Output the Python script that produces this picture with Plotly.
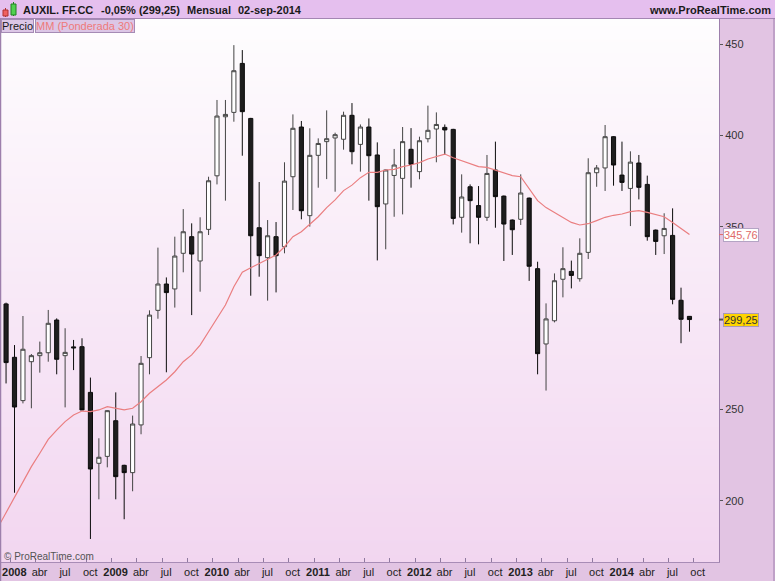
import plotly.graph_objects as go

# ---- data (monthly, dic-2007 .. sep-2014) ----
opens = [307.8, 278.6, 254.9, 276.2, 279.5, 281.1, 299.0, 279.5, 284.3, 284.4,
         259.4, 220.6, 224.4, 243.9, 219.5, 215.5, 241.6, 278.4, 304.3, 318.7,
         316.0, 335.5, 344.6, 331.3, 348.6, 377.9, 410.2, 412.6, 439.4, 409.3,
         349.5, 333.1, 344.6, 339.1, 377.4, 404.6, 356.1, 389.1, 396.6, 398.6,
         397.9, 411.0, 395.1, 404.6, 389.3, 362.5, 378.1, 376.5, 392.4, 380.2,
         398.2, 403.5, 404.4, 403.3, 355.2, 371.9, 361.6, 355.2, 381.1, 366.8,
         353.7, 354.1, 365.7, 327.1, 285.9, 298.6, 321.3, 325.6, 321.6, 336.0,
         379.6, 382.2, 399.3, 378.3, 371.0, 384.9, 373.2, 348.2, 345.1, 345.3,
         309.8, 301.0]
highs = [308.5, 285.3, 301.2, 280.4, 287.2, 304.5, 299.9, 294.5, 288.1, 289.0,
         267.5, 234.3, 249.6, 259.4, 219.8, 246.7, 279.3, 304.3, 338.6, 322.3,
         344.6, 359.7, 351.9, 355.2, 377.4, 419.4, 419.4, 449.4, 446.7, 409.6,
         374.5, 353.7, 352.6, 385.3, 411.5, 407.9, 403.9, 398.4, 413.7, 401.5,
         413.0, 417.7, 406.0, 409.3, 396.2, 381.3, 392.6, 404.6, 404.0, 399.3,
         416.3, 412.6, 406.0, 403.6, 378.7, 373.2, 372.3, 389.3, 396.6, 367.1,
         354.0, 378.7, 366.0, 330.9, 308.1, 324.5, 338.8, 331.5, 343.7, 387.5,
         383.8, 405.7, 399.6, 396.6, 391.3, 389.3, 378.0, 348.5, 357.4, 360.1,
         316.7, 301.2]
lows = [264.3, 204.5, 253.4, 250.7, 270.2, 276.2, 269.3, 251.2, 271.6, 249.6,
        179.2, 200.9, 218.4, 200.9, 190.0, 205.3, 236.5, 269.3, 299.7, 270.4,
        305.8, 325.1, 301.7, 314.5, 345.5, 373.2, 364.3, 407.5, 388.9, 312.3,
        322.7, 309.6, 314.1, 335.5, 359.2, 354.1, 350.1, 371.4, 376.1, 369.2,
        392.2, 384.2, 380.2, 364.3, 331.6, 337.7, 355.5, 356.8, 371.4, 376.0,
        396.2, 385.3, 389.3, 351.3, 346.8, 341.0, 340.4, 353.2, 349.5, 331.3,
        334.6, 351.0, 320.4, 269.3, 260.4, 297.7, 311.4, 316.3, 320.0, 332.4,
        371.9, 369.6, 372.5, 369.6, 350.4, 365.0, 342.4, 334.6, 335.1, 307.6,
        286.3, 292.6]
closes = [275.7, 251.4, 283.0, 279.5, 281.1, 297.2, 277.5, 281.3, 283.8, 249.8,
          217.5, 223.9, 249.4, 213.3, 215.5, 242.1, 275.3, 301.7, 318.7, 314.0,
          334.0, 347.3, 335.1, 347.3, 375.2, 410.6, 411.5, 435.4, 413.0, 345.1,
          334.2, 345.1, 334.2, 375.0, 403.9, 358.8, 389.1, 395.6, 398.2, 400.4,
          411.0, 391.1, 404.6, 388.9, 361.0, 381.1, 383.8, 396.6, 384.2, 397.1,
          402.8, 406.0, 403.0, 354.6, 366.3, 364.3, 355.2, 379.2, 366.5, 351.5,
          348.4, 368.5, 328.4, 280.6, 299.6, 320.5, 327.1, 323.4, 335.5, 379.6,
          382.2, 399.3, 383.8, 374.3, 385.4, 371.6, 344.6, 342.0, 349.1, 310.3,
          299.4, 299.25]
# weighted moving average 30 (first value = nov-2007, just left of the view)
mm30 = [185.2, 193.8, 202.4, 210.6, 218.8, 226.1, 233.7, 238.8, 243.4, 247.0, 249.2,
        248.9, 249.8, 251.6, 250.7, 249.8, 250.7, 254.3, 258.9, 262.5, 266.2,
        270.7, 276.2, 279.9, 285.3, 292.6, 299.9, 307.2, 317.2, 325.1, 327.6,
        330.0, 332.4, 334.6, 339.1, 344.6, 347.3, 351.3, 355.5, 360.5, 364.7,
        369.8, 372.8, 376.9, 379.8, 379.8, 381.1, 381.4, 382.9, 383.8, 385.1,
        387.1, 388.5, 389.8, 387.8, 386.1, 384.7, 382.9, 382.5, 381.1, 379.8,
        378.0, 377.4, 371.0, 364.3, 360.5, 357.7, 355.0, 352.4, 351.0, 351.7,
        353.4, 355.2, 356.3, 357.0, 358.3, 358.8, 357.9, 356.5, 355.5, 352.4,
        349.2, 345.76]
tick_labels = ["2008", "abr", "jul", "oct", "2009", "abr", "jul", "oct",
               "2010", "abr", "jul", "oct", "2011", "abr", "jul", "oct",
               "2012", "abr", "jul", "oct", "2013", "abr", "jul", "oct",
               "2014", "abr", "jul", "oct"]
y_ticks = [200, 250, 350, 400, 450]   # 300 is hidden behind the last-price box
last_close = 299.25
last_mm = 345.76

xs = list(range(len(opens)))
ma_x = list(range(-1, len(opens)))
tick_pos = [1 + 3 * k for k in range(len(tick_labels))]
tick_text = [("<b>%s</b>" % t if t.isdigit() else t) for t in tick_labels]

FONT = "Liberation Sans, Arial, sans-serif"
W, H = 775, 581
L, R, T, B = 1, 56, 19, 19
PW, PH = W - L - R, H - T - B
XR = [-0.6, 84.5]
YR = [166.6, 463.7]

def px(x):
    return (x - L) / PW

def py(y):
    return (H - B - y) / PH

fig = go.Figure()

# background gradient of the price panel
fig.add_trace(go.Heatmap(
    x=XR, y=YR, z=[[0, 0], [1, 1]], zsmooth="best",
    colorscale=[[0, "#f2d6f0"], [0.5, "#f8e9f7"], [1, "#fefdfe"]],
    showscale=False, hoverinfo="skip"))

fig.add_trace(go.Candlestick(
    x=xs, open=opens, high=highs, low=lows, close=closes,
    increasing=dict(fillcolor="#ffffff", line=dict(color="#444444", width=1)),
    decreasing=dict(fillcolor="#1e1e1e", line=dict(color="#0c0c0c", width=1)),
    whiskerwidth=0, showlegend=False, name="Precio"))

fig.add_trace(go.Scatter(
    x=ma_x, y=mm30, mode="lines", line=dict(color="#ea7e80", width=1.2),
    showlegend=False, name="MM (Ponderada 30)", hoverinfo="skip"))

shapes = []
# header bar
shapes.append(dict(type="rect", xref="paper", yref="paper", x0=px(-2), x1=px(W + 2),
                   y0=py(18), y1=py(-2), fillcolor="#e5bfee", line=dict(width=0), layer="below"))
shapes.append(dict(type="line", xref="paper", yref="paper", x0=px(0), x1=px(W),
                   y0=py(18.5), y1=py(18.5), line=dict(color="#a486b3", width=1)))
# panel borders
shapes.append(dict(type="line", xref="paper", yref="paper", x0=px(0.5), x1=px(0.5),
                   y0=py(H), y1=py(18.5), line=dict(color="#9d7fac", width=1.5)))
shapes.append(dict(type="line", xref="paper", yref="paper", x0=px(774), x1=px(774),
                   y0=py(H), y1=py(18.5), line=dict(color="#9d7fac", width=1)))
# header icon
shapes.append(dict(type="line", xref="paper", yref="paper", x0=px(5.5), x1=px(5.5),
                   y0=py(17), y1=py(8), line=dict(color="#b03030", width=1)))
shapes.append(dict(type="rect", xref="paper", yref="paper", x0=px(3), x1=px(8),
                   y0=py(16), y1=py(10), fillcolor="#f06060", line=dict(color="#b03030", width=1)))
shapes.append(dict(type="line", xref="paper", yref="paper", x0=px(13.5), x1=px(13.5),
                   y0=py(16), y1=py(2), line=dict(color="#208020", width=1)))
shapes.append(dict(type="rect", xref="paper", yref="paper", x0=px(11), x1=px(16),
                   y0=py(15), y1=py(4), fillcolor="#50d050", line=dict(color="#208020", width=1)))
# axis markers for the last values
shapes.append(dict(type="line", xref="paper", yref="y", x0=1, x1=px(723),
                   y0=last_mm, y1=last_mm, line=dict(color="#e06a6a", width=1)))
shapes.append(dict(type="line", xref="paper", yref="y", x0=1, x1=px(723),
                   y0=last_close, y1=last_close, line=dict(color="#555555", width=2)))

ann = []
def head(text, x, anchor="left"):
    ann.append(dict(text=text, xref="paper", yref="paper", x=px(x), y=py(9.5),
                    xanchor=anchor, yanchor="middle", showarrow=False,
                    font=dict(family=FONT, size=11, color="#1a1a1a")))

head("<b>AUXIL. FF.CC</b>", 21)
head("<b>-0,05% (299,25)</b>", 99)
head("<b>Mensual</b>", 185)
head("<b>02-sep-2014</b>", 236)
head("<b>www.ProRealTime.com</b>", 773, "right")

ann.append(dict(text="Precio", xref="paper", yref="paper", x=px(1), y=py(19),
                xanchor="left", yanchor="top", showarrow=False,
                bgcolor="#dcc6e6", bordercolor="#a58bb5", borderwidth=1, borderpad=0,
                font=dict(family=FONT, size=11, color="#1a1a1a")))
ann.append(dict(text="MM (Ponderada 30)", xref="paper", yref="paper", x=px(35), y=py(19),
                xanchor="left", yanchor="top", showarrow=False,
                bgcolor="#dcc6e6", bordercolor="#a58bb5", borderwidth=1, borderpad=0,
                font=dict(family=FONT, size=11, color="#ee7a7a")))
ann.append(dict(text="\u00a9 ProRealTime.com", xref="paper", yref="paper", x=px(2), y=py(556),
                xanchor="left", yanchor="middle", showarrow=False,
                font=dict(family=FONT, size=10, color="#555555")))
ann.append(dict(text="345,76", xref="paper", yref="y", x=px(723), y=last_mm,
                xanchor="left", yanchor="middle", showarrow=False,
                bgcolor="#ffffff", bordercolor="#b4a4c4", borderwidth=1, borderpad=0,
                font=dict(family=FONT, size=11, color="#e06a6a")))
ann.append(dict(text="299,25", xref="paper", yref="y", x=px(723), y=last_close,
                xanchor="left", yanchor="middle", showarrow=False,
                bgcolor="#ffd400", bordercolor="#a898b8", borderwidth=1, borderpad=0,
                font=dict(family=FONT, size=11, color="#333333")))

fig.update_layout(
    width=W, height=H, margin=dict(l=L, r=R, t=T, b=B, autoexpand=False),
    paper_bgcolor="#e2c4e3", plot_bgcolor="#f9eef8",
    shapes=shapes, annotations=ann, showlegend=False,
    xaxis=dict(range=XR, tickmode="array", tickvals=[p - 0.5 for p in tick_pos],
               ticktext=tick_text, ticks="inside", ticklen=4, tickcolor="#8f7a9f",
               ticklabelshift=4, ticklabelstandoff=0, automargin=False,
               tickfont=dict(family=FONT, size=11, color="#222222"),
               showgrid=False, zeroline=False, showline=True, linecolor="#a88cb6",
               rangeslider=dict(visible=False), fixedrange=True),
    yaxis=dict(side="right", range=YR, tickmode="array", tickvals=y_ticks,
               ticks="outside", ticklen=3, tickcolor="#555555", automargin=False,
               tickfont=dict(family=FONT, size=11, color="#333333"),
               showgrid=False, zeroline=False, showline=True, linecolor="#9d7fac",
               fixedrange=True),
)

fig.write_html("out.html", config={"displayModeBar": False},
               post_script="document.body.style.margin='0';document.body.style.padding='0';")
